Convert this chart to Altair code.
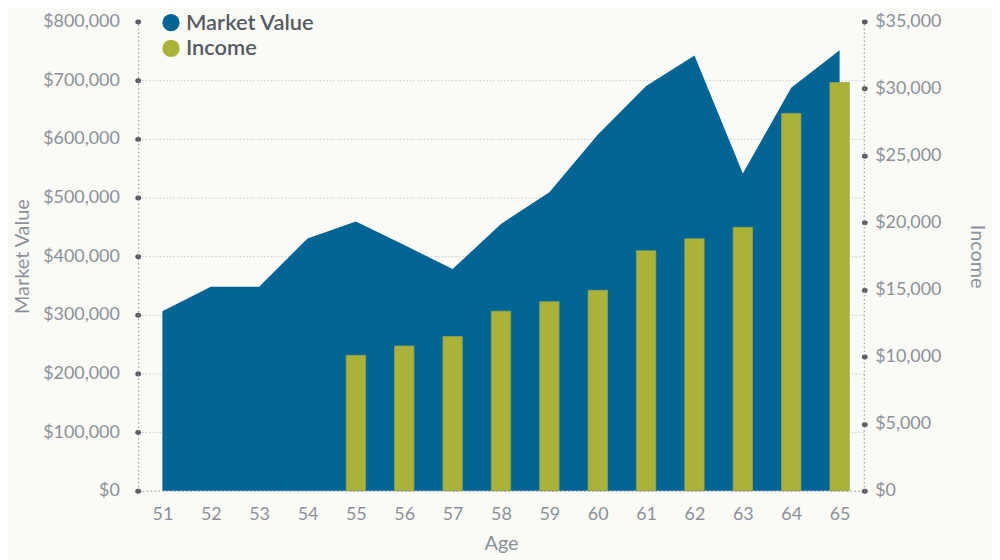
import altair as alt
import pandas as pd

ages = list(range(51, 66))
market_value = [306000, 348000, 348000, 430000, 459000, 419000, 378000, 455000,
                509000, 607000, 690000, 742000, 541000, 687000, 751000]
income_ages = [55, 56, 57, 58, 59, 60, 61, 62, 63, 64, 65]
income = [10100, 10800, 11500, 13400, 14100, 14950, 17900, 18800, 19650, 28150, 30450]

series_names = ["Market Value", "Income"]
series_colors = ["#006494", "#aab338"]

mv_df = pd.DataFrame({"Age": ages, "Market Value": market_value, "series": "Market Value"})
inc_df = pd.DataFrame({"Age": income_ages, "Income": income, "series": "Income"})

FONT = "Lato"
LABEL_COLOR = "#8c9198"
DOT_COLOR = "#5a5e63"

x_values = [v / 2 for v in range(102, 131)]  # 51, 51.5, ..., 65

x_scale = alt.Scale(domain=[50.5, 65.5], nice=False, zero=False)
x_axis = alt.Axis(
    values=x_values,
    format="d",
    labelExpr="datum.value % 1 === 0 ? datum.label : ''",
    tickOpacity={"condition": {"test": "datum.value % 1 === 0", "value": 0}, "value": 1},
    grid=False,
    title="Age",
    labelPadding=14,
    titlePadding=10,
)

color_scale = alt.Scale(domain=series_names, range=series_colors)

area = alt.Chart(mv_df).mark_area(color=series_colors[0], opacity=1).encode(
    x=alt.X("Age:Q", scale=x_scale, axis=x_axis),
    y=alt.Y(
        "Market Value:Q",
        scale=alt.Scale(domain=[0, 800000], nice=False),
        axis=alt.Axis(
            orient="left",
            values=list(range(0, 800001, 100000)),
            format="$,.0f",
            grid=True,
            gridOpacity={"condition": {"test": "datum.value >= 800000 || datum.value <= 0", "value": 0}, "value": 1},
            title="Market Value",
            labelPadding=18,
            titlePadding=10,
        ),
    ),
    color=alt.Color(
        "series:N",
        scale=color_scale,
        legend=alt.Legend(
            orient="none",
            legendX=22,
            legendY=-10,
            title=None,
            symbolType="circle",
            symbolSize=300,
            symbolStrokeWidth=0,
            labelFontSize=22,
            labelFontWeight=600,
            labelColor="#565b62",
            labelFont=FONT,
            rowPadding=4,
            labelOffset=4,
        ),
    ),
)

bars = alt.Chart(inc_df).transform_calculate(
    x0="datum.Age - 0.2", x1="datum.Age + 0.2"
).mark_bar(stroke="#98a34a", strokeWidth=0.8).encode(
    x=alt.X("x0:Q", scale=x_scale, axis=x_axis),
    x2="x1:Q",
    y=alt.Y(
        "Income:Q",
        scale=alt.Scale(domain=[0, 35000], nice=False),
        axis=alt.Axis(
            orient="right",
            values=list(range(0, 35001, 5000)),
            format="$,.0f",
            grid=False,
            title="Income",
            labelPadding=10,
            titlePadding=26,
        ),
    ),
    y2=alt.datum(0),
    color=alt.Color("series:N", scale=color_scale),
)

chart = alt.layer(area, bars).resolve_scale(y="independent").properties(
    width=730,
    height=472,
    background="#fafaf7",
    padding={"left": 4, "top": 2, "right": 5, "bottom": 5},
).configure_view(stroke=None).configure_axis(
    labelFont=FONT,
    titleFont=FONT,
    labelFontSize=18,
    titleFontSize=20,
    titleFontWeight="normal",
    labelColor=LABEL_COLOR,
    titleColor=LABEL_COLOR,
    domainColor="#8a8d92",
    domainDash=[1.5, 2.5],
    domainWidth=1,
    gridColor="#c9c9c9",
    gridDash=[1.5, 2],
    gridWidth=1,
    tickColor=DOT_COLOR,
    tickWidth=5,
    tickSize=1,
    tickCap="round",
).configure_legend(labelFont=FONT)

chart.save("out.html", embed_options={"renderer": "svg", "actions": False})
